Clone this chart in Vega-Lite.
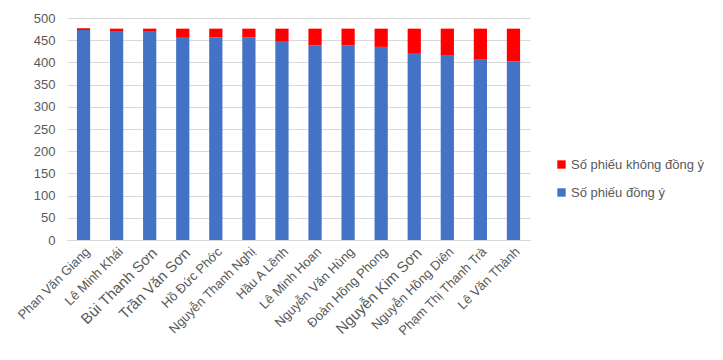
{
  "$schema": "https://vega.github.io/schema/vega-lite/v6.json",
  "autosize": "none",
  "width": 463,
  "height": 222,
  "padding": {"left": 67, "top": 18, "right": 193, "bottom": 120},
  "background": "white",
  "config": {
    "view": {"stroke": null},
    "font": "Liberation Sans"
  },
  "data": {
    "values": [
      {"name": "Phan Văn Giang", "idx": 1, "series": "Số phiếu đồng ý", "votes": 473, "ord": 1},
      {"name": "Phan Văn Giang", "idx": 1, "series": "Số phiếu không đồng ý", "votes": 4, "ord": 2},
      {"name": "Lê Minh Khái", "idx": 2, "series": "Số phiếu đồng ý", "votes": 469, "ord": 1},
      {"name": "Lê Minh Khái", "idx": 2, "series": "Số phiếu không đồng ý", "votes": 7, "ord": 2},
      {"name": "Bùi Thanh Sơn", "idx": 3, "series": "Số phiếu đồng ý", "votes": 469, "ord": 1},
      {"name": "Bùi Thanh Sơn", "idx": 3, "series": "Số phiếu không đồng ý", "votes": 7, "ord": 2},
      {"name": "Trần Văn Sơn", "idx": 4, "series": "Số phiếu đồng ý", "votes": 457, "ord": 1},
      {"name": "Trần Văn Sơn", "idx": 4, "series": "Số phiếu không đồng ý", "votes": 19, "ord": 2},
      {"name": "Hồ Đức Phớc", "idx": 5, "series": "Số phiếu đồng ý", "votes": 456, "ord": 1},
      {"name": "Hồ Đức Phớc", "idx": 5, "series": "Số phiếu không đồng ý", "votes": 20, "ord": 2},
      {"name": "Nguyễn Thanh Nghị", "idx": 6, "series": "Số phiếu đồng ý", "votes": 456, "ord": 1},
      {"name": "Nguyễn Thanh Nghị", "idx": 6, "series": "Số phiếu không đồng ý", "votes": 20, "ord": 2},
      {"name": "Hầu A Lềnh", "idx": 7, "series": "Số phiếu đồng ý", "votes": 448, "ord": 1},
      {"name": "Hầu A Lềnh", "idx": 7, "series": "Số phiếu không đồng ý", "votes": 28, "ord": 2},
      {"name": "Lê Minh Hoan", "idx": 8, "series": "Số phiếu đồng ý", "votes": 438, "ord": 1},
      {"name": "Lê Minh Hoan", "idx": 8, "series": "Số phiếu không đồng ý", "votes": 38, "ord": 2},
      {"name": "Nguyễn Văn Hùng", "idx": 9, "series": "Số phiếu đồng ý", "votes": 438, "ord": 1},
      {"name": "Nguyễn Văn Hùng", "idx": 9, "series": "Số phiếu không đồng ý", "votes": 38, "ord": 2},
      {"name": "Đoàn Hồng Phong", "idx": 10, "series": "Số phiếu đồng ý", "votes": 435, "ord": 1},
      {"name": "Đoàn Hồng Phong", "idx": 10, "series": "Số phiếu không đồng ý", "votes": 41, "ord": 2},
      {"name": "Nguyễn Kim Sơn", "idx": 11, "series": "Số phiếu đồng ý", "votes": 421, "ord": 1},
      {"name": "Nguyễn Kim Sơn", "idx": 11, "series": "Số phiếu không đồng ý", "votes": 55, "ord": 2},
      {"name": "Nguyễn Hồng Diên", "idx": 12, "series": "Số phiếu đồng ý", "votes": 415, "ord": 1},
      {"name": "Nguyễn Hồng Diên", "idx": 12, "series": "Số phiếu không đồng ý", "votes": 61, "ord": 2},
      {"name": "Phạm Thị Thanh Trà", "idx": 13, "series": "Số phiếu đồng ý", "votes": 406, "ord": 1},
      {"name": "Phạm Thị Thanh Trà", "idx": 13, "series": "Số phiếu không đồng ý", "votes": 70, "ord": 2},
      {"name": "Lê Văn Thành", "idx": 14, "series": "Số phiếu đồng ý", "votes": 402, "ord": 1},
      {"name": "Lê Văn Thành", "idx": 14, "series": "Số phiếu không đồng ý", "votes": 74, "ord": 2}
    ]
  },
  "mark": {"type": "bar"},
  "encoding": {
    "x": {
      "field": "name",
      "type": "nominal",
      "sort": {"field": "idx"},
      "scale": {"paddingInner": 0.6, "paddingOuter": 0.3},
      "axis": {
        "title": null,
        "labelAngle": -45,
        "labelAlign": "right",
        "labelBaseline": "top",
        "labelFontSize": {"condition": {"test": "indexof(['Bùi Thanh Sơn','Trần Văn Sơn','Nguyễn Kim Sơn'], datum.value) >= 0", "value": 15}, "value": 13},
        "labelColor": "#595959",
        "labelPadding": 5,
        "ticks": false,
        "domainColor": "#d9d9d9",
        "labelOverlap": false
      }
    },
    "y": {
      "field": "votes",
      "type": "quantitative",
      "stack": "zero",
      "scale": {"domain": [0, 500], "nice": false},
      "axis": {
        "title": null,
        "values": [0, 50, 100, 150, 200, 250, 300, 350, 400, 450, 500],
        "labelFontSize": 13,
        "labelColor": "#595959",
        "labelPadding": 12,
        "ticks": false,
        "domain": false,
        "gridColor": "#d9d9d9"
      }
    },
    "color": {
      "field": "series",
      "type": "nominal",
      "scale": {"domain": ["Số phiếu không đồng ý", "Số phiếu đồng ý"], "range": ["#ff0000", "#4472c4"]},
      "legend": {
        "title": null,
        "orient": "none",
        "legendX": 488,
        "legendY": 140,
        "symbolType": "square",
        "symbolSize": 70,
        "symbolStrokeWidth": 0,
        "labelFontSize": 13,
        "labelColor": "#595959",
        "rowPadding": 14,
        "labelOffset": 3
      }
    },
    "order": {"field": "ord", "type": "quantitative"}
  }
}
